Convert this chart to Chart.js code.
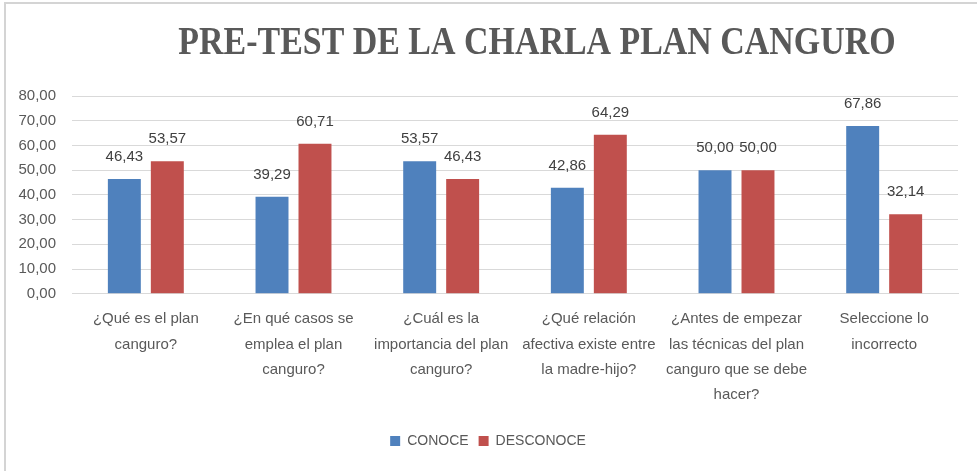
<!DOCTYPE html>
<html>
<head>
<meta charset="utf-8">
<script src="https://cdn.jsdelivr.net/npm/chart.js@4.4.1/dist/chart.umd.min.js"></script>
<style>
  html, body { margin: 0; padding: 0; background: #fff; }
  #wrap { width: 977px; height: 471px; }
</style>
</head>
<body>
<div id="wrap"><canvas id="canvas" width="977" height="471"></canvas></div>
<script>
const title = "PRE-TEST DE LA CHARLA PLAN CANGURO";
const categories = [
  ["¿Qué es el plan", "canguro?"],
  ["¿En qué casos se", "emplea el plan", "canguro?"],
  ["¿Cuál es la", "importancia del plan", "canguro?"],
  ["¿Qué relación", "afectiva existe entre", "la madre-hijo?"],
  ["¿Antes de empezar", "las técnicas del plan", "canguro que se debe", "hacer?"],
  ["Seleccione lo", "incorrecto"]
];
const conoce = [46.43, 39.29, 53.57, 42.86, 50.00, 67.86];
const desconoce = [53.57, 60.71, 46.43, 64.29, 50.00, 32.14];
const yMin = 0, yMax = 80, yStep = 10;

const fmt = v => Number(v).toFixed(2).replace(".", ",");
const FONT = "'Liberation Sans', Arial, sans-serif";

// white background, frame and the condensed serif title
const framePlugin = {
  id: "frame",
  beforeDraw(chart) {
    const ctx = chart.ctx;
    ctx.save();
    ctx.fillStyle = "#fff";
    ctx.fillRect(0, 0, chart.width, chart.height);
    ctx.strokeStyle = "#d4d4d4";
    ctx.lineWidth = 2;
    ctx.beginPath();
    ctx.moveTo(5, chart.height + 5);
    ctx.lineTo(5, 3);
    ctx.lineTo(chart.width + 5, 3);
    ctx.stroke();
    ctx.restore();
  },
  afterDraw(chart) {
    const ctx = chart.ctx;
    ctx.save();
    ctx.translate(537, 54);
    ctx.scale(0.87, 1);
    ctx.font = "bold 39px 'Liberation Serif', 'Times New Roman', serif";
    ctx.fillStyle = "#595959";
    ctx.textAlign = "center";
    ctx.textBaseline = "alphabetic";
    ctx.fillText(title, 0, 0);
    ctx.restore();
  }
};

// value labels above the bars
const valueLabels = {
  id: "valueLabels",
  afterDatasetsDraw(chart) {
    const ctx = chart.ctx;
    ctx.save();
    ctx.font = "15px " + FONT;
    ctx.fillStyle = "#404040";
    ctx.textAlign = "center";
    ctx.textBaseline = "middle";
    chart.data.datasets.forEach((ds, i) => {
      chart.getDatasetMeta(i).data.forEach((bar, j) => {
        ctx.fillText(fmt(ds.data[j]), bar.x, bar.y - 22);
      });
    });
    ctx.restore();
  }
};

new Chart(document.getElementById("canvas"), {
  type: "bar",
  data: {
    labels: categories,
    datasets: [
      {
        label: "CONOCE",
        data: conoce,
        backgroundColor: "#4F81BD",
        categoryPercentage: 0.582,
        barPercentage: 0.767
      },
      {
        label: "DESCONOCE",
        data: desconoce,
        backgroundColor: "#C0504D",
        categoryPercentage: 0.582,
        barPercentage: 0.767
      }
    ]
  },
  options: {
    responsive: false,
    animation: false,
    layout: { padding: { top: 96, left: 18, right: 19, bottom: 13 } },
    scales: {
      x: {
        grid: { display: false, drawTicks: false },
        border: { display: true, color: "#d9d9d9", width: 1 },
        ticks: {
          color: "#595959",
          font: { family: FONT, size: 15, lineHeight: 1.67 },
          padding: 13,
          maxRotation: 0,
          autoSkip: false
        },
        afterFit(scale) { scale.height += 4; }
      },
      y: {
        min: yMin,
        max: yMax,
        grid: { color: "#d9d9d9", drawTicks: false },
        border: { display: false },
        ticks: {
          stepSize: yStep,
          color: "#595959",
          font: { family: FONT, size: 15 },
          padding: 16,
          callback: v => fmt(v)
        },
        afterFit(scale) { scale.width = 54; }
      }
    },
    plugins: {
      title: { display: false },
      tooltip: { enabled: false },
      legend: {
        position: "bottom",
        labels: {
          color: "#595959",
          font: { family: FONT, size: 14 },
          boxWidth: 10,
          boxHeight: 10,
          padding: 10
        }
      }
    }
  },
  plugins: [framePlugin, valueLabels]
});
</script>
</body>
</html>
